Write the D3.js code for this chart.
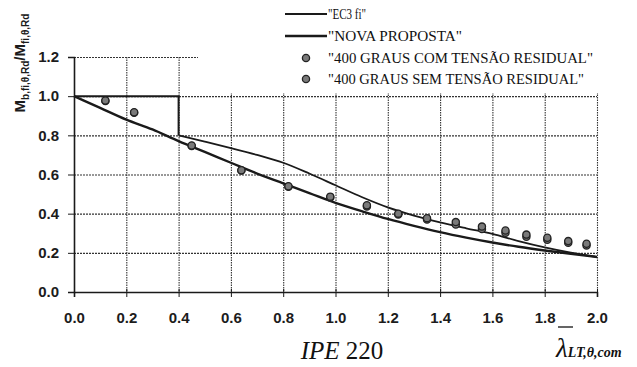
<!DOCTYPE html>
<html>
<head>
<meta charset="utf-8">
<script src="https://cdn.jsdelivr.net/npm/d3@7"></script>
<style>
  body { margin: 0; background: #fff; }
  svg { display: block; }
</style>
</head>
<body>
<div id="chart"></div>
<script>
// data
var ticksX = [0.0, 0.2, 0.4, 0.6, 0.8, 1.0, 1.2, 1.4, 1.6, 1.8, 2.0];
var ticksY = [0.0, 0.2, 0.4, 0.6, 0.8, 1.0, 1.2];

// "EC3 fi": plateau, drop at 0.4, then curve
var ec3StepLambda = [0.0, 0.4, 0.4];
var ec3StepValue = [1.0, 1.0, 0.8];
var ec3Lambda = [0.4, 0.5, 0.6, 0.7, 0.8, 0.9, 1.0, 1.1, 1.2, 1.3, 1.4, 1.5, 1.6, 1.7, 1.8, 1.9, 2.0];
var ec3Value = [0.80, 0.768, 0.735, 0.70, 0.66, 0.605, 0.545, 0.485, 0.432, 0.39, 0.355, 0.325, 0.297, 0.26, 0.228, 0.201, 0.178];

// "NOVA PROPOSTA"
var novaLambda = [0.0, 0.1, 0.2, 0.3, 0.4, 0.5, 0.6, 0.7, 0.8, 0.9, 1.0, 1.1, 1.2, 1.3, 1.4, 1.5, 1.6, 1.7, 1.8, 1.9, 2.0];
var novaValue = [1.0, 0.94, 0.88, 0.83, 0.77, 0.715, 0.66, 0.605, 0.555, 0.505, 0.455, 0.413, 0.373, 0.338, 0.306, 0.278, 0.253, 0.231, 0.212, 0.195, 0.179];

// numerical results at 400 degrees
var pointLambda = [0.12, 0.23, 0.45, 0.64, 0.82, 0.98, 1.12, 1.24, 1.35, 1.46, 1.56, 1.65, 1.73, 1.81, 1.89, 1.96];
var comValue = [0.975, 0.915, 0.745, 0.62, 0.537, 0.482, 0.437, 0.396, 0.370, 0.345, 0.322, 0.302, 0.282, 0.267, 0.252, 0.238];
var semValue = [0.978, 0.918, 0.748, 0.622, 0.54, 0.487, 0.443, 0.40, 0.377, 0.357, 0.334, 0.314, 0.293, 0.277, 0.26, 0.246];

var legendLabels = ['"EC3 fi"', '"NOVA PROPOSTA"', '"400 GRAUS COM TENSÃO RESIDUAL"', '"400 GRAUS SEM TENSÃO RESIDUAL"'];

var svgWidth = 637;
var svgHeight = 367;

var svg = d3.select("#chart").append("svg")
            .attr("width", svgWidth)
            .attr("height", svgHeight);

var xScale = d3.scaleLinear().domain([0, 2]).range([74, 597]);
var yScale = d3.scaleLinear().domain([0, 1.2]).range([292, 57]);

var ink = "#1a1a1a";

// grid
var gridX = d3.axisBottom(xScale).tickValues(ticksX.slice(1)).tickSize(yScale(0) - yScale(1.2)).tickFormat("");
svg.append("g")
   .attr("transform", `translate(0, ${yScale(1.2)})`)
   .call(gridX)
   .call(g => g.select(".domain").remove())
   .call(g => g.selectAll("line").attr("stroke", "#333").attr("stroke-width", 1.1).attr("stroke-dasharray", "1.5,1"));

var gridY = d3.axisLeft(yScale).tickValues(ticksY.slice(1)).tickSize(-(xScale(2) - xScale(0))).tickFormat("");
svg.append("g")
   .attr("transform", `translate(${xScale(0)}, 0)`)
   .call(gridY)
   .call(g => g.select(".domain").remove())
   .call(g => g.selectAll("line").attr("stroke", "#333").attr("stroke-width", 1.2).attr("stroke-dasharray", "2,1"));

// axes
var bottomAxis = d3.axisBottom(xScale).tickValues(ticksX).tickSize(5).tickPadding(15).tickFormat(d3.format(".1f"));
svg.append("g")
   .attr("transform", `translate(0, ${yScale(0)})`)
   .call(bottomAxis)
   .call(g => g.select(".domain").attr("stroke", ink).attr("stroke-width", 1.6))
   .call(g => g.selectAll("line").attr("stroke", ink).attr("y1", -3))
   .call(g => g.selectAll("text").attr("fill", "#1c1c1c").style("font-family", "Liberation Sans, Arial, sans-serif")
                .style("font-size", "15px").style("font-weight", "bold"));

var leftAxis = d3.axisLeft(yScale).tickValues(ticksY).tickSize(6).tickPadding(9).tickFormat(d3.format(".1f"));
svg.append("g")
   .attr("transform", `translate(${xScale(0)}, 0)`)
   .call(leftAxis)
   .call(g => g.select(".domain").attr("stroke", ink).attr("stroke-width", 1.6))
   .call(g => g.selectAll("line").attr("stroke", ink))
   .call(g => g.selectAll("text").attr("fill", "#1c1c1c").style("font-family", "Liberation Sans, Arial, sans-serif")
                .style("font-size", "15px").style("font-weight", "bold"));

// legend box hides the top of the grid
svg.append("rect")
   .attr("x", 198).attr("y", 0)
   .attr("width", svgWidth - 198).attr("height", 93)
   .attr("fill", "#fff");

// curves
var lineLinear = d3.line().x(d => xScale(d[0])).y(d => yScale(d[1]));
var lineSmooth = d3.line().x(d => xScale(d[0])).y(d => yScale(d[1])).curve(d3.curveMonotoneX);

svg.append("path")
   .attr("d", lineLinear(d3.zip(ec3StepLambda, ec3StepValue)))
   .attr("fill", "none").attr("stroke", ink).attr("stroke-width", 2);
svg.append("path")
   .attr("d", lineSmooth(d3.zip(ec3Lambda, ec3Value)))
   .attr("fill", "none").attr("stroke", ink).attr("stroke-width", 1.8);
svg.append("path")
   .attr("d", lineSmooth(d3.zip(novaLambda, novaValue)))
   .attr("fill", "none").attr("stroke", ink).attr("stroke-width", 2.4);

// points
[comValue, semValue].forEach(vals => {
    svg.append("g").selectAll("circle")
       .data(d3.zip(pointLambda, vals))
       .enter().append("circle")
       .attr("cx", d => xScale(d[0]))
       .attr("cy", d => yScale(d[1]))
       .attr("r", 3.6)
       .attr("fill", "#7a7a7a")
       .attr("stroke", "#222")
       .attr("stroke-width", 1.3);
});

// legend
var legendRows = [14, 36, 58, 79];
var legendWidths = [38, 134, 265, 256];
var legend = svg.append("g");
legendLabels.forEach((label, i) => {
    var y = legendRows[i];
    if (i < 2) {
        legend.append("line")
              .attr("x1", 285).attr("x2", 327)
              .attr("y1", y).attr("y2", y)
              .attr("stroke", ink).attr("stroke-width", i == 0 ? 1.8 : 2.4);
    } else {
        legend.append("circle")
              .attr("cx", 306).attr("cy", y)
              .attr("r", 3.6)
              .attr("fill", "#7a7a7a").attr("stroke", "#222").attr("stroke-width", 1.3);
    }
    legend.append("text")
          .attr("x", 328).attr("y", y + 4.5)
          .attr("fill", "#111")
          .attr("textLength", legendWidths[i])
          .attr("lengthAdjust", "spacingAndGlyphs")
          .style("font-family", "Liberation Serif, Times New Roman, serif")
          .style("font-size", "14.5px")
          .text(label);
});

// y axis title
var yTitle = svg.append("text")
   .attr("transform", "translate(25, 63) rotate(-90)")
   .attr("text-anchor", "middle")
   .attr("fill", "#1c1c1c")
   .style("font-family", "Liberation Sans, Arial, sans-serif")
   .style("font-weight", "bold")
   .style("font-size", "15px");
yTitle.append("tspan").text("M");
yTitle.append("tspan").attr("baseline-shift", "-4").style("font-size", "10px").text("b,fi,θ,Rd");
yTitle.append("tspan").text("/M");
yTitle.append("tspan").attr("baseline-shift", "-4").style("font-size", "10px").text("fi,θ,Rd");

// x axis titles
svg.append("text")
   .attr("x", 342).attr("y", 359)
   .attr("text-anchor", "middle")
   .attr("fill", "#111")
   .style("font-family", "Liberation Serif, Times New Roman, serif")
   .style("font-size", "25px")
   .call(t => t.append("tspan").style("font-style", "italic").text("IPE"))
   .call(t => t.append("tspan").text(" 220"));

var lam = svg.append("text")
   .attr("x", 556).attr("y", 357)
   .attr("fill", "#111")
   .style("font-family", "Liberation Serif, Times New Roman, serif")
   .style("font-style", "italic");
lam.append("tspan").style("font-size", "27px").text("λ");
lam.append("tspan").attr("dy", 0).style("font-size", "14px").style("font-weight", "bold").text("LT,θ,com");
svg.append("line")
   .attr("x1", 558).attr("x2", 573)
   .attr("y1", 327).attr("y2", 327)
   .attr("stroke", "#111").attr("stroke-width", 1.3);
</script>
</body>
</html>
